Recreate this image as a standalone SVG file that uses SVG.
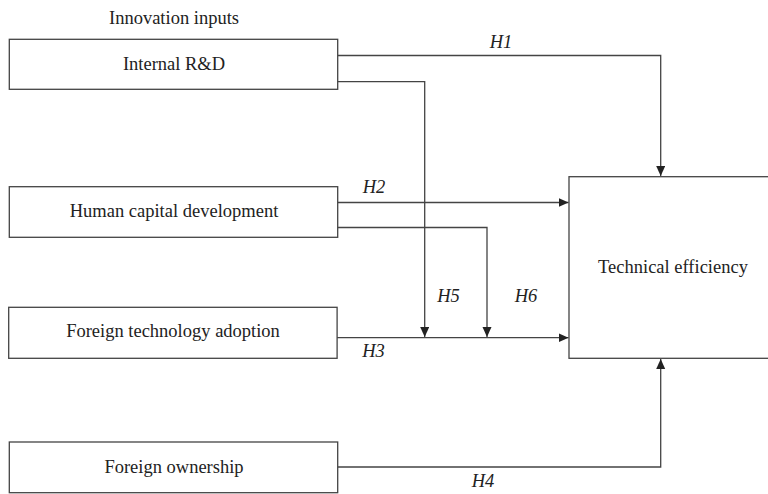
<svg xmlns="http://www.w3.org/2000/svg" width="768" height="494" viewBox="0 0 768 494">
<style>
.box{fill:#fff;stroke:#444;stroke-width:1.3}
.t{font-family:"Liberation Serif","Times New Roman",serif;font-size:18.5px;fill:#222;text-anchor:middle}
.h{font-family:"Liberation Serif","Times New Roman",serif;font-size:18.5px;fill:#222;font-style:italic;text-anchor:middle}
.c{fill:none;stroke:#444;stroke-width:1.3}
</style>
<defs>
<marker id="arr" markerUnits="userSpaceOnUse" markerWidth="11" markerHeight="10" refX="10" refY="4.5" orient="auto">
<path d="M0,0 L10,4.5 L0,9 z" fill="#222"/>
</marker>
</defs>
<rect width="768" height="494" fill="#fff"/>
<text class="t" x="174" y="24">Innovation inputs</text>
<g id="n1"><rect class="box" x="9.3" y="39.3" width="328.4" height="50"/><text class="t" x="174" y="70">Internal R&amp;D</text></g>
<g id="n2"><rect class="box" x="9.3" y="186.7" width="328.4" height="50.6"/><text class="t" x="174" y="217">Human capital development</text></g>
<g id="n3"><rect class="box" x="8.7" y="307.3" width="328.4" height="51"/><text class="t" x="173" y="337">Foreign technology adoption</text></g>
<g id="n4"><rect class="box" x="9.3" y="442" width="328.4" height="50.7"/><text class="t" x="174" y="473">Foreign ownership</text></g>
<g id="te"><rect class="box" x="569" y="176.7" width="210" height="181.6"/><text class="t" x="673" y="273">Technical efficiency</text></g>
<g id="connectors">
<path class="c" d="M337.7,55.5 H660.7 V176" marker-end="url(#arr)"/>
<path class="c" d="M337.7,81.7 H424.7 V337" marker-end="url(#arr)"/>
<path class="c" d="M337.7,202.5 H568.5" marker-end="url(#arr)"/>
<path class="c" d="M337.7,227.5 H487 V337" marker-end="url(#arr)"/>
<path class="c" d="M337.1,337.7 H568.5" marker-end="url(#arr)"/>
<path class="c" d="M337.7,467 H660.7 V359" marker-end="url(#arr)"/>
<text class="h" x="501" y="47.5">H1</text>
<text class="h" x="374" y="193">H2</text>
<text class="h" x="373.5" y="357">H3</text>
<text class="h" x="483" y="486.5">H4</text>
<text class="h" x="448.5" y="302">H5</text>
<text class="h" x="526" y="302">H6</text>
</g>
</svg>
